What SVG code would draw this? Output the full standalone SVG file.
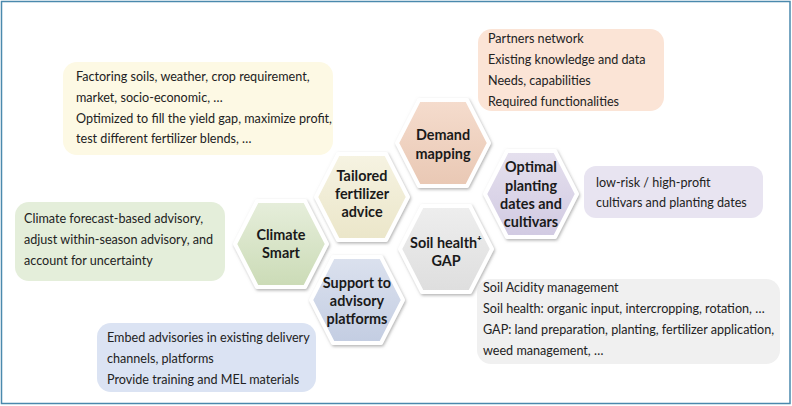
<svg xmlns="http://www.w3.org/2000/svg" width="792" height="406" viewBox="0 0 792 406">
<defs>
<style>
.box{font-family:Lato,"Open Sans","Liberation Sans",sans-serif;font-size:12.6px;fill:#222}
.hl{font-family:Lato,"Open Sans","Liberation Sans",sans-serif;font-size:14.4px;font-weight:bold;fill:#1a1a1a;text-anchor:middle}
.hex{stroke:#ffffff;stroke-width:4;stroke-linejoin:round;filter:url(#sh)}
</style>
<filter id="sh" x="-20%" y="-20%" width="140%" height="140%">
<feDropShadow dx="1" dy="1.5" stdDeviation="1.5" flood-color="#808080" flood-opacity="0.6"/>
</filter>
<path id="hx" d="M-46,0 L-24,-43 L24,-43 L46,0 L24,43 L-24,43 Z"/>
<linearGradient id="gG" x1="0" y1="0" x2="0" y2="1"><stop offset="0" stop-color="#e6eedb"/><stop offset="1" stop-color="#cbdbb6"/></linearGradient>
<linearGradient id="gY" x1="0" y1="0" x2="0" y2="1"><stop offset="0" stop-color="#f6f3e2"/><stop offset="1" stop-color="#ebe6c9"/></linearGradient>
<linearGradient id="gB" x1="0" y1="0" x2="0" y2="1"><stop offset="0" stop-color="#dbe1ee"/><stop offset="1" stop-color="#c3cde2"/></linearGradient>
<linearGradient id="gO" x1="0" y1="0" x2="0" y2="1"><stop offset="0" stop-color="#f5dccd"/><stop offset="1" stop-color="#e9c8b4"/></linearGradient>
<linearGradient id="gS" x1="0" y1="0" x2="0" y2="1"><stop offset="0" stop-color="#eeeeee"/><stop offset="1" stop-color="#dedede"/></linearGradient>
<linearGradient id="gP" x1="0" y1="0" x2="0" y2="1"><stop offset="0" stop-color="#e5e0ee"/><stop offset="1" stop-color="#d1cae2"/></linearGradient>
</defs>
<rect x="0" y="0" width="792" height="406" fill="#ffffff"/>
<rect x="1.5" y="1.5" width="788.5" height="402" fill="none" stroke="#4a89ad" stroke-width="1.5"/>

<g id="box-fertilizer">
<rect x="63" y="62" width="270" height="93" rx="14" fill="#fdf9e4"/>
<text class="box" x="76" y="81">Factoring soils, weather, crop requirement,</text>
<text class="box" x="76" y="102">market, socio-economic, …</text>
<text class="box" x="76" y="123">Optimized to fill the yield gap, maximize profit,</text>
<text class="box" x="76" y="143">test different fertilizer blends, …</text>
</g>
<g id="box-demand">
<rect x="478" y="29" width="186" height="82" rx="14" fill="#fbe4d6"/>
<text class="box" x="488" y="43">Partners network</text>
<text class="box" x="488" y="64">Existing knowledge and data</text>
<text class="box" x="488" y="85">Needs, capabilities</text>
<text class="box" x="488" y="106">Required functionalities</text>
</g>
<g id="box-planting">
<rect x="584" y="166" width="179" height="52" rx="12" fill="#e8e4f1"/>
<text class="box" x="596" y="187">low-risk / high-profit</text>
<text class="box" x="596" y="207">cultivars and planting dates</text>
</g>
<g id="box-climate">
<rect x="15" y="202" width="210" height="79" rx="14" fill="#e4eeda"/>
<text class="box" x="24" y="223">Climate forecast-based advisory,</text>
<text class="box" x="24" y="244">adjust within-season advisory, and</text>
<text class="box" x="24" y="265">account for uncertainty</text>
</g>
<g id="box-support">
<rect x="97" y="323" width="219" height="69" rx="14" fill="#dbe3f3"/>
<text class="box" x="107" y="342">Embed advisories in existing delivery</text>
<text class="box" x="107" y="363">channels, platforms</text>
<text class="box" x="107" y="384">Provide training and MEL materials</text>
</g>
<g id="box-soil">
<rect x="477" y="279" width="303" height="85" rx="14" fill="#f0f0f0"/>
<text class="box" x="483" y="292">Soil Acidity management</text>
<text class="box" x="483" y="313">Soil health: organic input, intercropping, rotation, …</text>
<text class="box" x="483" y="334">GAP: land preparation, planting, fertilizer application,</text>
<text class="box" x="483" y="355">weed management, …</text>
</g>

<g id="connectors"></g>

<g id="hex-climate">
<use href="#hx" x="281" y="244" class="hex" fill="url(#gG)"/>
<text class="hl" x="281" y="240">Climate</text>
<text class="hl" x="281" y="258">Smart</text>
</g>
<g id="hex-tailored">
<use href="#hx" x="362" y="197" class="hex" fill="url(#gY)"/>
<text class="hl" x="362" y="181">Tailored</text>
<text class="hl" x="362" y="199">fertilizer</text>
<text class="hl" x="362" y="217">advice</text>
</g>
<g id="hex-support">
<use href="#hx" x="357" y="300" class="hex" fill="url(#gB)"/>
<text class="hl" x="357" y="288">Support to</text>
<text class="hl" x="357" y="306">advisory</text>
<text class="hl" x="357" y="324">platforms</text>
</g>
<g id="hex-demand">
<use href="#hx" x="443" y="143" class="hex" fill="url(#gO)"/>
<text class="hl" x="443" y="140">Demand</text>
<text class="hl" x="443" y="159">mapping</text>
</g>
<g id="hex-soil">
<use href="#hx" x="446" y="249" class="hex" fill="url(#gS)"/>
<text class="hl" x="446" y="248">Soil health⁺</text>
<text class="hl" x="446" y="266">GAP</text>
</g>
<g id="hex-optimal">
<use href="#hx" x="531" y="194" class="hex" fill="url(#gP)"/>
<text class="hl" x="531" y="172">Optimal</text>
<text class="hl" x="531" y="191">planting</text>
<text class="hl" x="531" y="209">dates and</text>
<text class="hl" x="531" y="227">cultivars</text>
</g>
</svg>
